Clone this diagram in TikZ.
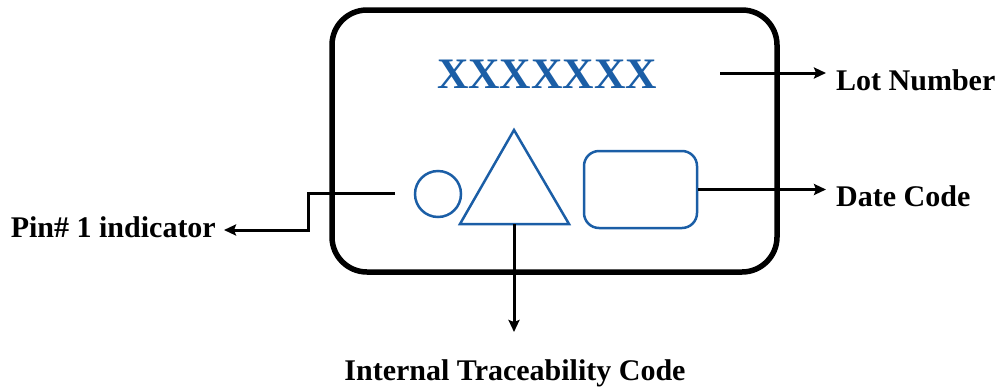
\documentclass[tikz,border=0pt]{standalone}
\usepackage{fontspec}
\setmainfont{Liberation Serif}
\usepackage{xcolor}
\usetikzlibrary{arrows.meta, positioning}

\definecolor{markblue}{HTML}{1B5EA6}

\tikzset{
    chip/.style={draw, line width=5.5pt, rounded corners=35pt, minimum width=445pt, minimum height=262pt, inner sep=0pt},
    blueline/.style={draw=markblue, line width=2.5pt},
    conn/.style={line width=3pt, -{Stealth[length=12pt, width=11pt, inset=2pt]}},
    labeltext/.style={font=\fontsize{30}{36}\selectfont\bfseries, inner sep=0pt}
}

\begin{document}
\begin{tikzpicture}[x=1pt, y=-1pt]
    \useasboundingbox (0,0) rectangle (998,389);

    % package outline
    \node[chip] (chip) at (554.5,141) {};

    % marking
    \node[labeltext, font=\fontsize{43.5}{50}\selectfont\bfseries, text=markblue, anchor=base] (lot) at (547,88) {XXXXXXX};
    \node[blueline, circle, minimum size=46pt, inner sep=0pt] (pin) at (438,194) {};
    \coordinate (ta) at (514,130);
    \coordinate (tl) at (460,224);
    \coordinate (tr) at (569,224);
    \coordinate (tb) at (514,224);
    \draw[blueline, line join=miter] (ta) -- (tl) -- (tr) -- cycle;
    \node[blueline, rounded corners=15pt, minimum width=113pt, minimum height=77pt, inner sep=0pt] (date) at (640.5,189.5) {};

    % labels
    \node[labeltext, anchor=base west] (lotlbl) at (836,90) {Lot Number};
    \node[labeltext, anchor=base west] (datelbl) at (836,206) {Date Code};
    \node[labeltext, anchor=base east] (pinlbl) at (216,237) {Pin\# 1 indicator};
    \node[labeltext, anchor=base] (intlbl) at (515,380) {Internal Traceability Code};

    % leaders
    \coordinate (lotstart) at (720,73);
    \draw[conn] (lotstart) -- ([xshift=-10pt]lotstart -| lotlbl.west);
    \draw[conn] (date.east) -- ([xshift=-10pt]date.east -| datelbl.west);
    \coordinate (pinstart) at (395,193);
    \coordinate (bend) at (308,230);
    \draw[conn] (pinstart) -| (bend) -- ([xshift=8pt]bend -| pinlbl.east);
    \draw[conn] (tb) -- (514,332);
\end{tikzpicture}
\end{document}
